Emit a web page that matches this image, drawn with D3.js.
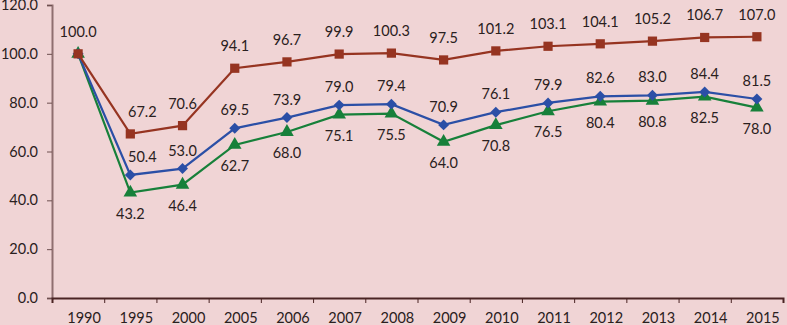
<!DOCTYPE html>
<html>
<head>
<meta charset="utf-8">
<script src="https://cdn.jsdelivr.net/npm/d3@7"></script>
<style>
  body { margin: 0; background: #f0d4d5; }
  svg { display: block; font-family: Lato, "Open Sans", sans-serif; }
  .lbl { font-size: 14.5px; fill: #2a2020; text-anchor: middle; }
</style>
</head>
<body>
<div id="chart"></div>
<script>
// categories and series
var years = ["1990", "1995", "2000", "2005", "2006", "2007", "2008", "2009", "2010", "2011", "2012", "2013", "2014", "2015"];
var redValues   = [100.0, 67.2, 70.6, 94.1, 96.7, 99.9, 100.3, 97.5, 101.2, 103.1, 104.1, 105.2, 106.7, 107.0];
var blueValues  = [100.0, 50.4, 53.0, 69.5, 73.9, 79.0, 79.4, 70.9, 76.1, 79.9, 82.6, 83.0, 84.4, 81.5];
var greenValues = [100.0, 43.2, 46.4, 62.7, 68.0, 75.1, 75.5, 64.0, 70.8, 76.5, 80.4, 80.8, 82.5, 78.0];
var yTicks = [0, 20, 40, 60, 80, 100, 120];

window.onload = function(){
    drawChart();
};

function drawChart(){
    var width = 787, height = 325;
    var svg = d3.select("#chart").append("svg").attr("width", width).attr("height", height);

    svg.append("rect").attr("width", width).attr("height", height).attr("fill", "#f0d4d5");

    var left = 52, right = 783, top = 5, bottom = 298;

    var xScale = d3.scaleBand().domain(years).range([left, right]);
    var xEdge = d3.scaleLinear().domain([0, years.length]).range([left, right]);
    var yScale = d3.scaleLinear().domain([0, 120]).range([bottom, top]);
    var xMid = function(i){ return xScale(years[i]) + xScale.bandwidth() / 2; };

    // y axis
    var yAxis = svg.append("g")
        .attr("transform", "translate(" + left + ",0)")
        .call(d3.axisLeft(yScale).tickValues(yTicks).tickSize(5).tickPadding(9)
              .tickFormat(d3.format(".1f")));
    yAxis.select(".domain").attr("stroke", "#8f6f70").attr("stroke-width", 2);
    yAxis.selectAll(".tick line").attr("stroke", "#6e5050");
    yAxis.selectAll(".tick text").attr("fill", "#2a2020").style("font-size", "14.5px")
        .style("font-family", "Lato, sans-serif");

    // x axis: ticks at band edges, labels at centres
    var xTicks = svg.append("g")
        .attr("transform", "translate(0," + bottom + ")")
        .call(d3.axisBottom(xEdge).ticks(years.length).tickSize(5).tickFormat(""));
    xTicks.select(".domain").attr("stroke", "#4a2424").attr("stroke-width", 2);
    xTicks.selectAll(".tick line").attr("stroke", "#4a2424");

    svg.append("g").selectAll("text")
        .data(years)
        .enter()
        .append("text")
        .attr("class", "lbl")
        .attr("x", function(d){ return xScale(d) + xScale.bandwidth() / 2 + 6; })
        .attr("y", 323)
        .text(function(d){ return d; });

    var line = d3.line()
        .x(function(d, i){ return xMid(i); })
        .y(function(d){ return yScale(d); });

    var series = [
        {values: redValues, color: "#963421", marker: "square", labelDy: -17},
        {values: blueValues, color: "#2b4fa6", marker: "diamond", labelDy: -13},
        {values: greenValues, color: "#17803a", marker: "triangle", labelDy: 26}
    ];

    var symbols = {
        square: d3.symbol().type(d3.symbolSquare).size(85),
        diamond: d3.symbol().type(d3.symbolSquare).size(60),
        triangle: d3.symbol().type(d3.symbolTriangle).size(80)
    };

    // draw green first so red ends up on top like the reference
    series.slice().reverse().forEach(function(s){
        svg.append("path")
            .datum(s.values)
            .attr("fill", "none")
            .attr("stroke", s.color)
            .attr("stroke-width", 2.2)
            .attr("d", line);

        svg.append("g").selectAll("path")
            .data(s.values)
            .enter()
            .append("path")
            .attr("d", symbols[s.marker])
            .attr("fill", s.color)
            .attr("transform", function(d, i){
                var rot = s.marker === "diamond" ? " rotate(45)" : "";
                return "translate(" + xMid(i) + "," + yScale(d) + ")" + rot;
            });
    });

    // data labels (only the top series labels the shared 1990 point)
    series.forEach(function(s, k){
        var pts = s.values.map(function(v, i){ return {v: v, i: i}; })
                          .filter(function(p){ return !(p.i === 0 && k > 0); });
        svg.append("g").selectAll("text")
            .data(pts)
            .enter()
            .append("text")
            .attr("class", "lbl")
            .attr("x", function(p){
                var nudge = (p.i === 1 && k < 2) ? 12 : 0;
                return xMid(p.i) + nudge;
            })
            .attr("y", function(p){ return yScale(p.v) + s.labelDy; })
            .text(function(p){ return d3.format(".1f")(p.v); });
    });
}
</script>
</body>
</html>
